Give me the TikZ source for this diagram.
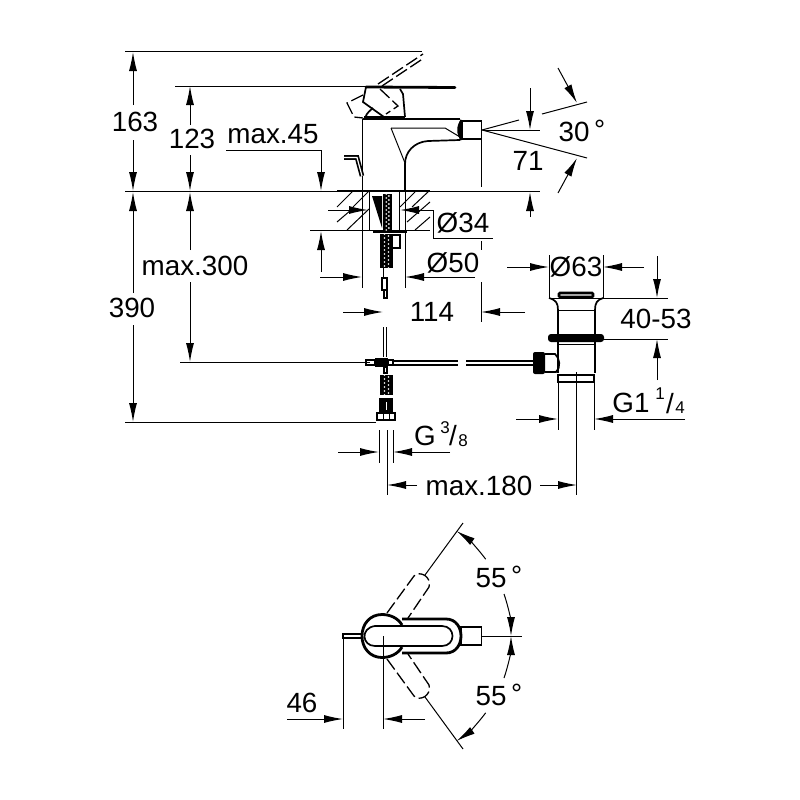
\documentclass[tikz,border=0pt]{standalone}
\usepackage{fontspec}
\setmainfont{Liberation Sans}
\usetikzlibrary{arrows.meta,calc}
\tikzset{
    headarrow/.style = {-{Latex[length=19pt,width=8pt]}, line width=1pt},
    thinline/.style = {line width=1pt},
    outline/.style = {line width=1.7pt},
    heavy/.style = {line width=2.8pt},
    ghost/.style = {line width=1.3pt, dash pattern=on 13pt off 4pt},
    dimtext/.style = {inner sep=0pt, font=\fontsize{27.8}{28}\selectfont},
    smalltext/.style = {inner sep=0pt, font=\fontsize{17}{17}\selectfont}
}
% white dots on a black strip, for the braided hoses
\newcommand{\hosemesh}[4]{%
    \fill (#1,#2) rectangle (#3,#4);
    \pgfmathtruncatemacro{\RowNext}{#2+4}
    \foreach \Row in {#2,\RowNext,...,#4} {
        \fill[white] ($(#1,\Row)!.35!(#3,\Row)$) circle (.9pt);
        \fill[white] ($(#1,\Row+2)!.65!(#3,\Row+2)$) circle (.9pt);
    }
}
\begin{document}
\begin{tikzpicture}[x=1pt,y=-1pt]
    \useasboundingbox[fill=white] (0,0) rectangle (800,800);

    % labels
    \node (l163) [dimtext] at (135,122) {163};
    \node (l123) [dimtext] at (192,139) {123};
    \node (lmax45) [dimtext] at (273,134) {max.45};
    \node (l30) [dimtext] at (582,131) {30\,\raisebox{.1ex}{°}};
    \node (l71) [dimtext] at (528,161) {71};
    \node (l34) [dimtext] at (463,223) {Ø34};
    \node (l50) [dimtext] at (453,263) {Ø50};
    \node (lmax300) [dimtext] at (195,266) {max.300};
    \node (l114) [dimtext] at (432,312) {114};
    \node (l390) [dimtext] at (132,308) {390};
    \node (l63) [dimtext] at (576,267) {Ø63};
    \node (l4053) [dimtext] at (656,319) {40-53};
    \node (lg1) [dimtext] at (631,403) {G1};
    \node (lg1a) [smalltext] at (660,394) {1};
    \node (lg1b) [dimtext] at (670,404) {/};
    \node (lg1c) [smalltext] at (680,408) {4};
    \node (lg3) [dimtext] at (425,436) {G};
    \node (lg3a) [smalltext] at (445,428) {3};
    \node (lg3b) [dimtext] at (453,436) {/};
    \node (lg3c) [smalltext] at (463,441) {8};
    \node (lmax180) [dimtext] at (479,486) {max.180};
    \node (l55a) [dimtext] at (499,577) {55\,\raisebox{.1ex}{°}};
    \node (l55b) [dimtext] at (499,695) {55\,\raisebox{.1ex}{°}};
    \node (l46) [dimtext] at (302,703) {46};

    % extension lines
    \foreach \Ax/\Ay/\Bx/\By in {%
        125/52/422/52,
        175/86/367/86,
        125/191/362/191,
        405/191/540/191,
        180/362/370/362,
        125/422/376/422,
        226/150/321/150,
        310/230/430/230,
        362/191/362/288,
        405/191/405/288,
        481/131/481/187,
        481/241/481/250,
        481/282/481/322,
        483/130/540/130,
        433/210/433/238,
        433/238/493/238,
        379/430/379/463,
        393/430/393/463,
        387/430/387/495,
        576/372/576/495,
        549/255/549/298,
        603/255/603/298,
        549/298/668/298,
        603/339/668/339,
        558/382/558/430,
        594/382/594/430,
        482/130/519/120,
        482/130/587/158,
        542/114/587/102,
        482/636/522/636,
        343/636/343/729,
        383/636/383/729,
        425/575/463/523,
        425/697/463/749%
    }
        \draw[thinline] (\Ax,\Ay) -- (\Bx,\By);

    % dimension arrows
    \foreach \Sx/\Sy/\Tx/\Ty in {%
        133/105/133/52,
        133/140/133/191,
        133/293/133/192,
        133/325/133/422,
        190/125/190/86,
        190/155/190/191,
        190/250/190/192,
        190/282/190/362,
        321/150/321/191,
        321/272/321/231,
        530/88/530/130,
        530/217/530/192,
        558/68/577/103,
        558/193/577/158,
        328/210/368/210,
        433/210/400/210,
        320/277/362/277,
        475/277/405/277,
        343/312/383/312,
        525/312/481/312,
        507/267/549/267,
        644/267/603/267,
        657/256/657/298,
        657/380/657/339,
        516/419/558/419,
        685/419/594/419,
        338/452/379/452,
        450/452/393/452,
        417/485/387/485,
        540/485/577/485,
        287/719/343/719,
        425/719/383/719%
    }
        \draw[headarrow] (\Sx,\Sy) -- (\Tx,\Ty);

    % mixer body
    \draw[outline] (362.5,119) -- (362.5,191);
    \draw[outline] (362.5,119) -- (460,119);
    \draw[outline] (460,140) -- (428,141) .. controls (414,142) and (405,152) .. (405,164) -- (405,191);
    \draw[thinline] (391,128) -- (445,128) -- (460,137);
    \draw[thinline] (391,128) -- (405,163);
    \draw[outline] (462,121) rectangle (481.5,139);
    \fill (461,119) .. controls (456,126) and (456,134) .. (461,141) -- cycle;

    % handle
    \draw[heavy,line cap=round] (366,87) -- (455,87.5);
    \draw[outline] (400,89) -- (403,94) -- (405,117);
    \draw[outline] (366,87) -- (363,102) -- (384,117);
    \draw[heavy] (364,117.5) -- (405,117.5);
    \draw[outline] (365,118) .. controls (367,112) and (371,110) .. (373,108);
    % handle when lifted
    \draw[ghost] (378,84) -- (423,54);
    \draw[ghost] (382,86) -- (424,58);
    \draw[ghost] (363,95) -- (347,103) -- (354,117) -- (363,118);
    \draw[ghost] (380,89) -- (398,106) -- (386,114);

    % lift rod
    \draw[outline,double=white,double distance=1.2pt] (344,157.5) -- (357,157.5) -- (362,176);

    % worktop
    \draw[outline] (337,191) -- (430,191);
    \draw[thinline] (337,230) -- (430,230);
    \foreach \Ax/\Ay/\Bx/\By in {%
        337/207/353/191,
        353/207/369/191,
        337/222/351/210,
        347/230/369/209,
        400/207/415/192,
        412/207/429/191,
        407/222/430/202,
        415/230/430/217%
    }
        \draw[thinline] (\Ax,\Ay) -- (\Bx,\By);
    \draw[outline] (369.5,192) -- (369.5,230);
    \draw[outline] (399.5,192) -- (399.5,230);
    \fill (372,196) -- (382,196) -- (382,228) -- cycle;
    \hosemesh{383}{194}{392}{230}

    % tails under the worktop
    \draw[heavy] (373,232) -- (407,232);
    \hosemesh{380}{234}{393}{268}
    \draw[outline] (393,235) -- (400,235) -- (400,248) -- (393,248);
    \draw[outline] (382,278) rectangle (387,290);
    \draw[outline] (384,290) rectangle (387,298);
    \draw[thinline] (383.5,268) -- (383.5,278);

    % lower connection
    \draw[outline] (383.5,327) -- (383.5,357);
    \draw[outline] (386.5,327) -- (386.5,357);
    \draw[outline] (366,360) rectangle (375,365);
    \fill (375,358) rectangle (388,367);
    \draw[outline] (388,360) rectangle (393,365);
    \foreach \Ax/\Bx in {393/458,466/533} {
        \draw[outline] (\Ax,361) -- (\Bx,361);
        \draw[outline] (\Ax,365) -- (\Bx,365);
    }
    \draw[outline] (384,367) rectangle (387,373);
    \hosemesh{380}{375}{393}{395}
    \fill (379,398) rectangle (393,412);
    \draw[white,line width=1pt] (386,402) -- (386,410);
    \draw[heavy] (377,413) rectangle (395,420);
    \draw[thinline] (383,413) -- (383,420);
    \draw[thinline] (389,413) -- (389,420);

    % waste set
    \draw[heavy,rounded corners=1pt] (559,293) -- (559,297) -- (593,297) -- (593,293) -- cycle;
    \draw[outline] (549,298) .. controls (556,300) and (558,303) .. (558,310) -- (558,334);
    \draw[outline] (603,298) .. controls (597,300) and (595,303) .. (595,310) -- (595,334);
    \draw[thinline] (558,310) -- (595,310);
    \fill[rounded corners=3pt] (548,334) rectangle (604,342);
    \draw[outline] (558,342) -- (558,373);
    \draw[outline] (595,342) -- (595,373);
    \draw[thinline] (558,344) -- (595,344);
    \draw[outline] (545,354) -- (555,354) .. controls (560,358) and (561,368) .. (556,372) -- (545,372);
    \fill[rounded corners=2pt] (533,352) rectangle (545,374);
    \draw[heavy] (558,375) rectangle (594,382);

    % plan view
    \draw[outline] (461,627) rectangle (481.5,645);
    \draw[heavy] (402,619) -- (446,619) .. controls (466,619) and (466,653) .. (446,653) -- (402,653);
    \draw[outline] (402,626) -- (442,626) .. controls (456,626) and (456,646) .. (442,646) -- (402,646);
    \draw[heavy] (402,625) .. controls (398,618) and (390,614.5) .. (382,614.5) .. controls (370,614.5) and (362,624) .. (362,636)
        .. controls (362,648) and (370,657.5) .. (382,657.5) .. controls (390,657.5) and (398,654) .. (402,647);
    \draw[outline] (402,626) -- (375,626) .. controls (360,628) and (362,646) .. (375,646) -- (402,646);
    \draw[outline] (343,634) rectangle (362,638);
    % handle swung to either side
    \draw[ghost] (387,613) -- (414,576) .. controls (420,570) and (432,577) .. (429,587) -- (408,618);
    \draw[ghost] (387,659) -- (414,696) .. controls (420,702) and (432,695) .. (429,685) -- (408,654);
    % angle marks
    \draw[headarrow] (485.7,559.2) .. controls (477.4,548) and (467.4,538.3) .. (456.5,531);
    \draw[headarrow] (504,594) .. controls (508.7,607.5) and (511,622) .. (511,636);
    \draw[headarrow] (485.7,712.8) .. controls (477.4,724) and (467.4,733.7) .. (456.5,741);
    \draw[headarrow] (504,678) .. controls (508.7,664.5) and (511,650) .. (511,636);
\end{tikzpicture}
\end{document}
